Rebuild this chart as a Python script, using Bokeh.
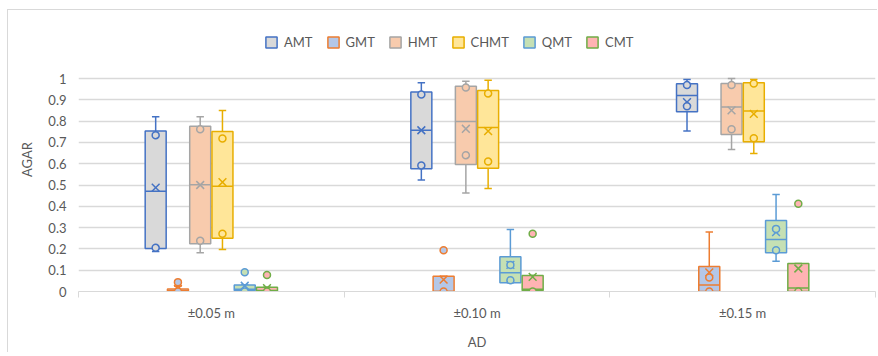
from bokeh.plotting import figure
from bokeh.models import (FixedTicker, Legend, LegendItem, ColumnDataSource, Range1d,
                          CustomJSTickFormatter)
from bokeh.embed import file_html
from bokeh.resources import INLINE

groups = ["±0.05 m", "±0.10 m", "±0.15 m"]
series = ["AMT", "GMT", "HMT", "CHMT", "QMT", "CMT"]

# values per series (rows) and per group (columns)
w_low = [[0.188, 0.523, 0.753], [0.0, 0.0, 0.0], [0.182, 0.463, 0.667],
         [0.197, 0.484, 0.648], [0.0, 0.041, 0.142], [0.0, 0.0, 0.0]]
q1 = [[0.202, 0.576, 0.844], [0.0, 0.0, 0.0], [0.224, 0.596, 0.737],
      [0.25, 0.579, 0.703], [0.005, 0.041, 0.182], [0.0, 0.005, 0.0]]
med = [[0.471, 0.757, 0.92], [0.003, 0.0, 0.03], [0.501, 0.798, 0.866],
       [0.494, 0.77, 0.847], [0.01, 0.088, 0.244], [0.005, 0.01, 0.017]]
q3 = [[0.753, 0.937, 0.975], [0.012, 0.072, 0.117], [0.776, 0.964, 0.976],
      [0.751, 0.944, 0.98], [0.03, 0.163, 0.333], [0.02, 0.075, 0.131]]
w_high = [[0.82, 0.98, 0.995], [0.025, 0.072, 0.279], [0.82, 0.987, 1.0],
          [0.85, 0.992, 0.995], [0.03, 0.291, 0.455], [0.02, 0.075, 0.131]]
means = [[0.488, 0.757, 0.889], [0.012, 0.056, 0.09], [0.50, 0.764, 0.85],
         [0.513, 0.753, 0.834], [0.027, 0.125, 0.279], [0.016, 0.069, 0.108]]
points = [[[0.734, 0.205], [0.925, 0.592], [0.969, 0.87]],
          [[0.044, 0.0], [0.194, 0.0], [0.066, 0.0]],
          [[0.762, 0.238], [0.958, 0.64], [0.969, 0.762]],
          [[0.718, 0.271], [0.93, 0.61], [0.976, 0.72]],
          [[0.09, 0.0], [0.125, 0.053], [0.294, 0.194]],
          [[0.078, 0.0], [0.271, 0.0], [0.412, 0.0]]]
y_ticks = [0, 0.1, 0.2, 0.3, 0.4, 0.5, 0.6, 0.7, 0.8, 0.9, 1.0]

line_colors = ["#4472C4", "#ED7D31", "#A5A5A5", "#E8AE00", "#5B9BD5", "#70AD47"]
fill_colors = ["#D9D9D9", "#B4C7E7", "#F8CBAD", "#FFE699", "#C5E0B4", "#FFB3B3"]

FONT = "Lato"
TXT = "#595959"
GRID = "#D9D9D9"

# frame: 797 x 264 px, 213 px per unit on y, headroom above 1 holds the legend
p = figure(frame_width=797, frame_height=264, output_backend="svg", toolbar_location=None,
           x_range=Range1d(0, 3), y_range=Range1d(0, 264 / 213))
p.min_border_left = 70
p.min_border_right = 2
p.min_border_top = 17
p.min_border_bottom = 56
p.outline_line_color = None
p.background_fill_color = "white"
p.border_fill_color = "white"
p.styles = {"margin-left": "7px", "margin-top": "9px",
            "border-left": "1px solid #D9D9D9", "border-top": "1px solid #D9D9D9"}

step = 0.0838
bw = 0.079
cw = 0.028

items = []
for j, s in enumerate(series):
    xs = [g + 0.5 + (j - 2.5) * step for g in range(3)]
    src = ColumnDataSource(dict(
        x=xs, q1=q1[j], q3=q3[j], med=med[j], lo=w_low[j], hi=w_high[j], mean=means[j],
        xl=[x - bw / 2 for x in xs], xr=[x + bw / 2 for x in xs],
        cl=[x - cw / 2 for x in xs], cr=[x + cw / 2 for x in xs]))
    lc, fc = line_colors[j], fill_colors[j]
    p.segment(x0="x", y0="q3", x1="x", y1="hi", source=src, line_color=lc, line_width=1.5)
    p.segment(x0="x", y0="q1", x1="x", y1="lo", source=src, line_color=lc, line_width=1.5)
    p.segment(x0="cl", y0="hi", x1="cr", y1="hi", source=src, line_color=lc, line_width=1.5)
    p.segment(x0="cl", y0="lo", x1="cr", y1="lo", source=src, line_color=lc, line_width=1.5)
    r = p.vbar(x="x", width=bw, top="q3", bottom="q1", source=src,
               fill_color=fc, line_color=lc, line_width=1.5)
    p.segment(x0="xl", y0="med", x1="xr", y1="med", source=src, line_color=lc, line_width=1.5)
    p.scatter(x="x", y="mean", source=src, marker="x", size=11, line_color=lc, line_width=1.5)
    px, py = [], []
    for g in range(3):
        for v in points[j][g]:
            px.append(xs[g])
            py.append(v)
    p.scatter(px, py, marker="circle", size=7, fill_color=fc, line_color=lc, line_width=1.5)
    items.append(LegendItem(label=s, renderers=[r]))

legend = Legend(items=items, orientation="horizontal", location=(186, 241),
                padding=0, margin=0, spacing=13, glyph_width=14, glyph_height=14,
                label_height=14, label_standoff=6, border_line_color=None,
                background_fill_alpha=0, label_text_font=FONT,
                label_text_font_size="13px", label_text_color=TXT)
p.add_layout(legend)

# y axis
p.yaxis.ticker = FixedTicker(ticks=y_ticks)
p.yaxis.formatter = CustomJSTickFormatter(code="return String(Math.round(tick*10)/10)")
p.yaxis.axis_line_color = None
p.yaxis.major_tick_line_color = None
p.yaxis.minor_tick_line_color = None
p.yaxis.major_label_text_font = FONT
p.yaxis.major_label_text_font_size = "13px"
p.yaxis.major_label_text_color = TXT
p.yaxis.major_label_standoff = 6
p.yaxis.axis_label = "AGAR"
p.yaxis.axis_label_text_font = FONT
p.yaxis.axis_label_text_font_size = "13px"
p.yaxis.axis_label_text_font_style = "normal"
p.yaxis.axis_label_text_color = TXT
p.yaxis.axis_label_standoff = 10

# x axis
p.xaxis.ticker = FixedTicker(ticks=[0.5, 1.5, 2.5], minor_ticks=[0, 1, 2, 3])
p.xaxis.formatter = CustomJSTickFormatter(args=dict(labels=groups),
                                          code="return labels[Math.floor(tick)]")
p.xaxis.axis_line_color = GRID
p.xaxis.major_tick_line_color = None
p.xaxis.major_tick_out = 0
p.xaxis.minor_tick_line_color = GRID
p.xaxis.minor_tick_out = 6
p.xaxis.minor_tick_in = 0
p.xaxis.major_label_text_font = FONT
p.xaxis.major_label_text_font_size = "13px"
p.xaxis.major_label_text_color = TXT
p.xaxis.major_label_standoff = 7
p.xaxis.axis_label = "AD"
p.xaxis.axis_label_text_font = FONT
p.xaxis.axis_label_text_font_size = "13px"
p.xaxis.axis_label_text_font_style = "normal"
p.xaxis.axis_label_text_color = TXT
p.xaxis.axis_label_standoff = 10

p.xgrid.grid_line_color = None
p.ygrid.ticker = FixedTicker(ticks=y_ticks)
p.ygrid.grid_line_color = GRID
p.ygrid.grid_line_width = 1.5

open("out.html", "w").write(file_html(p, INLINE))
